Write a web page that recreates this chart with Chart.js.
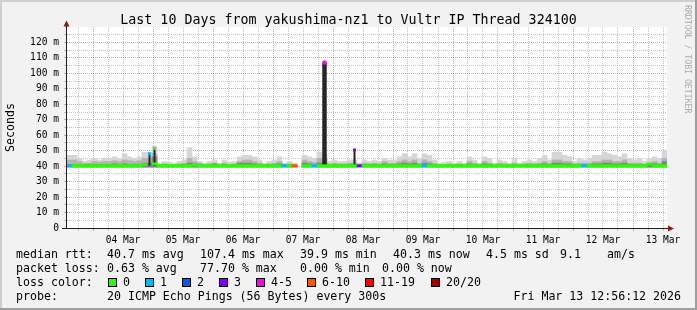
<!DOCTYPE html>
<html>
<head>
<meta charset="utf-8">
<title>Last 10 Days from yakushima-nz1</title>
<script src="https://cdn.jsdelivr.net/npm/chart.js@4.4.1/dist/chart.umd.min.js"></script>
<style>
  html, body { margin: 0; padding: 0; background: #f2f2f2; }
  canvas { display: block; }
</style>
</head>
<body>
<canvas id="graph" width="697" height="310"></canvas>
<script>
'use strict';

// hour counter: day n of March starts at n * 24
const startHour = 85.6;
const endHour = 325.6;
const binHours = 2;

const dayLabels = ['04 Mar', '05 Mar', '06 Mar', '07 Mar', '08 Mar', '09 Mar', '10 Mar', '11 Mar', '12 Mar', '13 Mar'];
const yLabels = ['0', '10 m', '20 m', '30 m', '40 m', '50 m', '60 m', '70 m', '80 m', '90 m', '100 m', '110 m', '120 m'];

const lossLabels = ['0', '1', '2', '3', '4-5', '6-10', '11-19', '20/20'];
const lossColors = ['#26ff00', '#00b8ff', '#0059ff', '#7e00ff', '#ff00ff', '#ff5500', '#ff0000', '#a10000'];

// smoke (ms), one value per 2h bin
const smokeHi = [
    47, 47, 45, 43, 44, 45, 44, 45, 45, 46, 45, 48, 46, 45, 46, 49, 49, 53, 42, 43, 42.5, 42, 43, 44,
    52, 46, 43, 42, 43, 44, 42, 44, 42.5, 43, 46, 47, 47, 46, 44, 42, 43, 44, 46, 42, 43, 42,
    null,
    47, 46, 45, 49, 48, 43, 44, 43, 43, 44, 44, 42, 44,
    43, 44, 43, 45, 44, 44, 46, 48, 46, 48, 45, 48,
    47, 44, 42, 42.5, 43, 42, 43, 42, 46, 44, 42, 46, 45, 42, 44, 43, 42, 45, 42, 43, 44, 43, 45, 47,
    44, 49, 49, 47, 46, 43, 45, 44, 45, 47, 47, 49, 48, 47, 46, 48, 45, 44, 45, 43, 45, 46, 45, 50
];
const smokeMid = [
    44, 44, 43, 42, 42, 43, 42.5, 43, 43, 43.5, 43, 44, 43.5, 43, 43.5, 45, 45, 48, 41, 41.5, 41, 41, 41.5, 42,
    45, 43, 42, 41, 41.5, 42, 41, 42, 41, 41.5, 43, 44, 44, 43, 42, 41, 41.5, 42, 43, 41, 41.5, 41,
    null,
    44, 43, 42.5, 45, 45, 41.5, 42, 41.5, 41.5, 42, 42, 41, 42,
    41.5, 42, 41.5, 43, 42, 42, 43, 44, 43, 44, 42, 44,
    43, 42, 41, 41, 41.5, 41, 41.5, 41, 43, 42, 41, 43, 42, 41, 42, 41.5, 41, 42, 41, 41.5, 42, 41.5, 42, 43,
    42, 44, 44, 43, 43, 41.5, 42, 42, 42, 43, 43, 44, 44, 43, 43, 44, 42, 42, 42, 41.5, 42, 43, 42, 45
];
const smokeLo = [
    41, 41, 41, 40.8, 41, 41, 41, 41, 41, 41.5, 41, 41.5, 41, 41, 41, 42, 42, 46, 40.8, 41, 40.8, 40.8, 41, 41,
    42, 41.5, 41, 40.8, 41, 41.5, 40.8, 41, 40.8, 41, 42, 42, 42, 41.5, 41, 40.8, 41, 41, 41.5, 40.8, 41, 40.8,
    null,
    42, 41.5, 41, 42, 42, 40.8, 41, 41, 41, 41, 41, 40.8, 41,
    41, 41, 41, 41.5, 41, 41, 41.5, 42, 41.5, 42, 41, 42,
    41.5, 41, 40.8, 40.8, 41, 40.8, 41, 40.8, 41.5, 41, 40.8, 41.5, 41, 40.8, 41, 41, 40.8, 41, 40.8, 41, 41, 41, 41, 41.5,
    41, 42, 42, 41.5, 41.5, 41, 41, 41, 41, 41.5, 41.5, 42, 42, 41.5, 41.5, 42, 41, 41, 41, 40.8, 41, 41.5, 41, 43
];
const smokeFloor = 39.4;

// median rtt (ms)
const medianRtt = [
    40.3, 40.3, 40.3, 40.3, 40.3, 40.3, 40.3, 40.3, 40.3, 40.3, 40.3, 40.3, 40.3, 40.3, 40.3, 41, null, 41.5, 40.5, 40.3, 40.3, 40.3, 40.3, 40.3,
    40.3, 40.8, 40.3, 40.3, 40.3, 40.3, 40.3, 40.3, 40.3, 40.3, 40.3, 40.3, 40.3, 40.3, 40.3, 40.3, 40.3, 40.3, 40.3, 40.3, 40.3, 40.3, null, 40.3,
    40.3, 40.3, 40.3, 40.3, 40.3, 40.3, 40.3, 40.3, 40.3, 40.3, 40.3, 40.3, 40.3, 40.3, 40.3, 40.3, 40.3, 40.3, 40.3, 40.3, 40.3, 40.3, 40.3, 40.3,
    40.3, 40.3, 40.3, 40.3, 40.3, 40.3, 40.3, 40.3, 40.3, 40.3, 40.3, 40.3, 40.3, 40.3, 40.3, 40.3, 40.3, 40.3, 40.3, 40.3, 40.3, 40.3, 40.3, 40.3,
    40.3, 40.3, 40.3, 40.3, 40.3, 40.3, 40.3, 40.3, 40.3, 40.3, 40.3, 40.3, 40.3, 40.3, 40.3, 40.3, 40.3, 40.3, 40.3, 40.3, 41.5, 40.3, 40.3, 40.3
];
// bins with packet loss on the median line
const lossBins = [0, 43, 45, 49, 58, 71, 103];
const lossLevel = [1, 1, 5, 1, 3, 1, 1];

// short bursts where the median jumped
const spikeBins = [16, 17, 51, 57];
const spikeTop = [48, 51.5, 107, 50.5];
const spikeLoss = [1, 0, 4, 3];

const MONO = '"DejaVu Sans Mono", monospace';
const gridMinor = 'rgba(150,150,150,0.55)';
const gridMajor = 'rgba(222,79,79,0.55)';

function binCenter(i) {
    return startHour + binHours * i + binHours / 2;
}

function lossOf(i) {
    const k = lossBins.indexOf(i);
    return k === -1 ? 0 : lossLevel[k];
}

function floatBars(tops, base) {
    const out = [];
    for (let i = 0; i < tops.length; i++) {
        if (tops[i] === null) continue;
        out.push({x: binCenter(i), y: [base, tops[i]]});
    }
    return out;
}

const medianData = [];
for (let i = 0; i < medianRtt.length; i++) {
    if (medianRtt[i] === null) continue;
    medianData.push({x: binCenter(i), y: [medianRtt[i] - 0.65, medianRtt[i] + 0.65], loss: lossOf(i)});
}

const wideSpikes = [];
const thinSpikes = [];
const capData = [];
for (let k = 0; k < spikeBins.length; k++) {
    const bar = {x: binCenter(spikeBins[k]), y: [40.3, spikeTop[k]]};
    if (spikeTop[k] > 100) {
        wideSpikes.push(bar);
    } else {
        thinSpikes.push(bar);
    }
    capData.push({x: binCenter(spikeBins[k]), y: spikeTop[k], loss: spikeLoss[k]});
}

const xTicks = [];
for (let h = 90; h <= 324; h += 6) xTicks.push(h);

const rrdFrame = {
    id: 'rrdFrame',
    beforeDraw(chart) {
        const ctx = chart.ctx;
        const a = chart.chartArea;
        ctx.save();
        ctx.fillStyle = '#f2f2f2';
        ctx.fillRect(0, 0, 697, 310);
        ctx.fillStyle = '#cfcfcf';
        ctx.fillRect(0, 0, 697, 2);
        ctx.fillRect(0, 0, 2, 310);
        ctx.fillStyle = '#9e9e9e';
        ctx.fillRect(0, 308, 697, 2);
        ctx.fillRect(695, 0, 2, 310);
        ctx.fillStyle = '#ffffff';
        ctx.fillRect(a.left, a.top, a.right - a.left, a.bottom - a.top);
        ctx.restore();
    },
    afterDraw(chart) {
        const ctx = chart.ctx;
        const a = chart.chartArea;
        ctx.save();

        // axes
        ctx.strokeStyle = '#1f1f1f';
        ctx.lineWidth = 1;
        ctx.beginPath();
        ctx.moveTo(a.left - 0.5, a.bottom + 0.5);
        ctx.lineTo(a.left - 0.5, 26);
        ctx.moveTo(62, a.bottom + 0.5);
        ctx.lineTo(669, a.bottom + 0.5);
        ctx.stroke();
        ctx.fillStyle = '#801f1f';
        ctx.beginPath();
        ctx.moveTo(a.left - 0.5, 20.5);
        ctx.lineTo(a.left - 3.5, 26.5);
        ctx.lineTo(a.left + 2.5, 26.5);
        ctx.closePath();
        ctx.fill();
        ctx.beginPath();
        ctx.moveTo(674, a.bottom + 0.5);
        ctx.lineTo(668, a.bottom - 2.5);
        ctx.lineTo(668, a.bottom + 3.5);
        ctx.closePath();
        ctx.fill();

        // title
        ctx.fillStyle = '#000';
        ctx.font = '13.3px ' + MONO;
        ctx.textAlign = 'center';
        ctx.textBaseline = 'alphabetic';
        ctx.fillText('Last 10 Days from yakushima-nz1 to Vultr IP Thread 324100', 348.5, 24);

        // vertical label
        ctx.save();
        ctx.translate(11, 127.5);
        ctx.rotate(-Math.PI / 2);
        ctx.font = '11.6px ' + MONO;
        ctx.textBaseline = 'middle';
        ctx.fillText('Seconds', 0, 0);
        ctx.restore();

        // watermark
        ctx.save();
        ctx.translate(687.5, 5);
        ctx.rotate(Math.PI / 2);
        ctx.font = '8.2px ' + MONO;
        ctx.fillStyle = '#ababab';
        ctx.textAlign = 'left';
        ctx.textBaseline = 'middle';
        ctx.fillText('RRDTOOL / TOBI OETIKER', 0, 0);
        ctx.restore();

        // legend
        ctx.font = '11.6px ' + MONO;
        ctx.textAlign = 'left';
        ctx.fillStyle = '#000';
        const row1 = [[16, 'median rtt:'], [107, '40.7 ms avg'], [200, '107.4 ms max'], [300, '39.9 ms min'],
            [393, '40.3 ms now'], [486, '4.5 ms sd'], [560, '9.1'], [607, 'am/s']];
        const row2 = [[16, 'packet loss:'], [107, '0.63 % avg'], [200, '77.70 % max'], [300, '0.00 % min'], [382, '0.00 % now']];
        row1.forEach(p => ctx.fillText(p[1], p[0], 258));
        row2.forEach(p => ctx.fillText(p[1], p[0], 272));
        ctx.fillText('loss color:', 16, 286);
        const boxX = [108, 145, 182, 219, 256, 307, 365, 431];
        for (let i = 0; i < lossLabels.length; i++) {
            ctx.fillStyle = lossColors[i];
            ctx.fillRect(boxX[i], 278, 9, 9);
            ctx.strokeStyle = '#000';
            ctx.strokeRect(boxX[i] + 0.5, 278.5, 8, 8);
            ctx.fillStyle = '#000';
            ctx.fillText(lossLabels[i], boxX[i] + 15, 286);
        }
        ctx.fillText('probe:', 16, 300);
        ctx.fillText('20 ICMP Echo Pings (56 Bytes) every 300s', 107, 300);
        ctx.textAlign = 'right';
        ctx.fillText('Fri Mar 13 12:56:12 2026', 681, 300);
        ctx.restore();
    }
};

const canvas = document.getElementById('graph');
const chart = new Chart(canvas.getContext('2d'), {
    type: 'bar',
    data: {
        datasets: [
            {
                type: 'line',
                label: 'spike caps',
                data: capData,
                showLine: false,
                pointStyle: 'rect',
                pointRadius: ctx => (ctx.raw && ctx.raw.y > 100 ? 2.8 : 2.1),
                pointBorderWidth: 0,
                pointBackgroundColor: ctx => lossColors[ctx.raw ? ctx.raw.loss : 0]
            },
            {
                label: 'median rtt',
                data: medianData,
                grouped: false,
                barPercentage: 1,
                categoryPercentage: 1,
                borderWidth: 0,
                backgroundColor: ctx => lossColors[ctx.raw ? ctx.raw.loss : 0]
            },
            {
                label: 'wide spikes',
                data: wideSpikes,
                grouped: false,
                barPercentage: 0.9,
                categoryPercentage: 1,
                borderWidth: 0,
                backgroundColor: '#262626'
            },
            {
                label: 'thin spikes',
                data: thinSpikes,
                grouped: false,
                barPercentage: 0.4,
                categoryPercentage: 1,
                borderWidth: 0,
                backgroundColor: '#262626'
            },
            {
                label: 'smoke dark',
                data: floatBars(smokeLo, smokeFloor),
                grouped: false,
                barPercentage: 1,
                categoryPercentage: 1,
                borderWidth: 0,
                backgroundColor: '#858585'
            },
            {
                label: 'smoke mid',
                data: floatBars(smokeMid, smokeFloor),
                grouped: false,
                barPercentage: 1,
                categoryPercentage: 1,
                borderWidth: 0,
                backgroundColor: '#b3b3b3'
            },
            {
                label: 'smoke light',
                data: floatBars(smokeHi, smokeFloor),
                grouped: false,
                barPercentage: 1,
                categoryPercentage: 1,
                borderWidth: 0,
                backgroundColor: '#d6d6d6'
            }
        ]
    },
    options: {
        responsive: false,
        animation: false,
        events: [],
        layout: {padding: {left: 0, right: 30, top: 27, bottom: 0}},
        plugins: {
            legend: {display: false},
            title: {display: false},
            tooltip: {enabled: false}
        },
        scales: {
            x: {
                type: 'linear',
                min: startHour,
                max: endHour,
                offset: false,
                afterBuildTicks: s => { s.ticks = xTicks.map(v => ({value: v})); },
                afterFit: s => { s.height = 82; },
                grid: {
                    offset: false,
                    lineWidth: 1,
                    tickLength: 3,
                    color: ctx => (ctx.tick.value % 24 === 0 ? gridMajor : gridMinor),
                    tickColor: ctx => (ctx.tick.value % 24 === 0 ? gridMajor : gridMinor)
                },
                border: {display: false, dash: [1, 1]},
                ticks: {
                    autoSkip: false,
                    maxRotation: 0,
                    minRotation: 0,
                    padding: 4,
                    color: '#000',
                    font: {family: MONO, size: 9.6},
                    callback: v => (v % 24 === 12 ? dayLabels[(v - 108) / 24] : '')
                }
            },
            y: {
                min: 0,
                max: 130,
                afterFit: s => { s.width = 67; },
                grid: {
                    lineWidth: 1,
                    tickLength: 3,
                    color: ctx => {
                        const v = ctx.tick.value;
                        if (v === 0 || v >= 130) return 'rgba(0,0,0,0)';
                        return v % 10 === 0 ? gridMajor : gridMinor;
                    },
                    tickColor: ctx => {
                        const v = ctx.tick.value;
                        if (v >= 130) return 'rgba(0,0,0,0)';
                        return v % 10 === 0 ? gridMajor : gridMinor;
                    }
                },
                border: {display: false, dash: [1, 1]},
                ticks: {
                    stepSize: 5,
                    autoSkip: false,
                    padding: 5,
                    color: '#000',
                    font: {family: MONO, size: 9.6},
                    callback: v => (v % 10 === 0 && v < 130 ? yLabels[v / 10] : '')
                }
            }
        }
    },
    plugins: [rrdFrame]
});
</script>
</body>
</html>
